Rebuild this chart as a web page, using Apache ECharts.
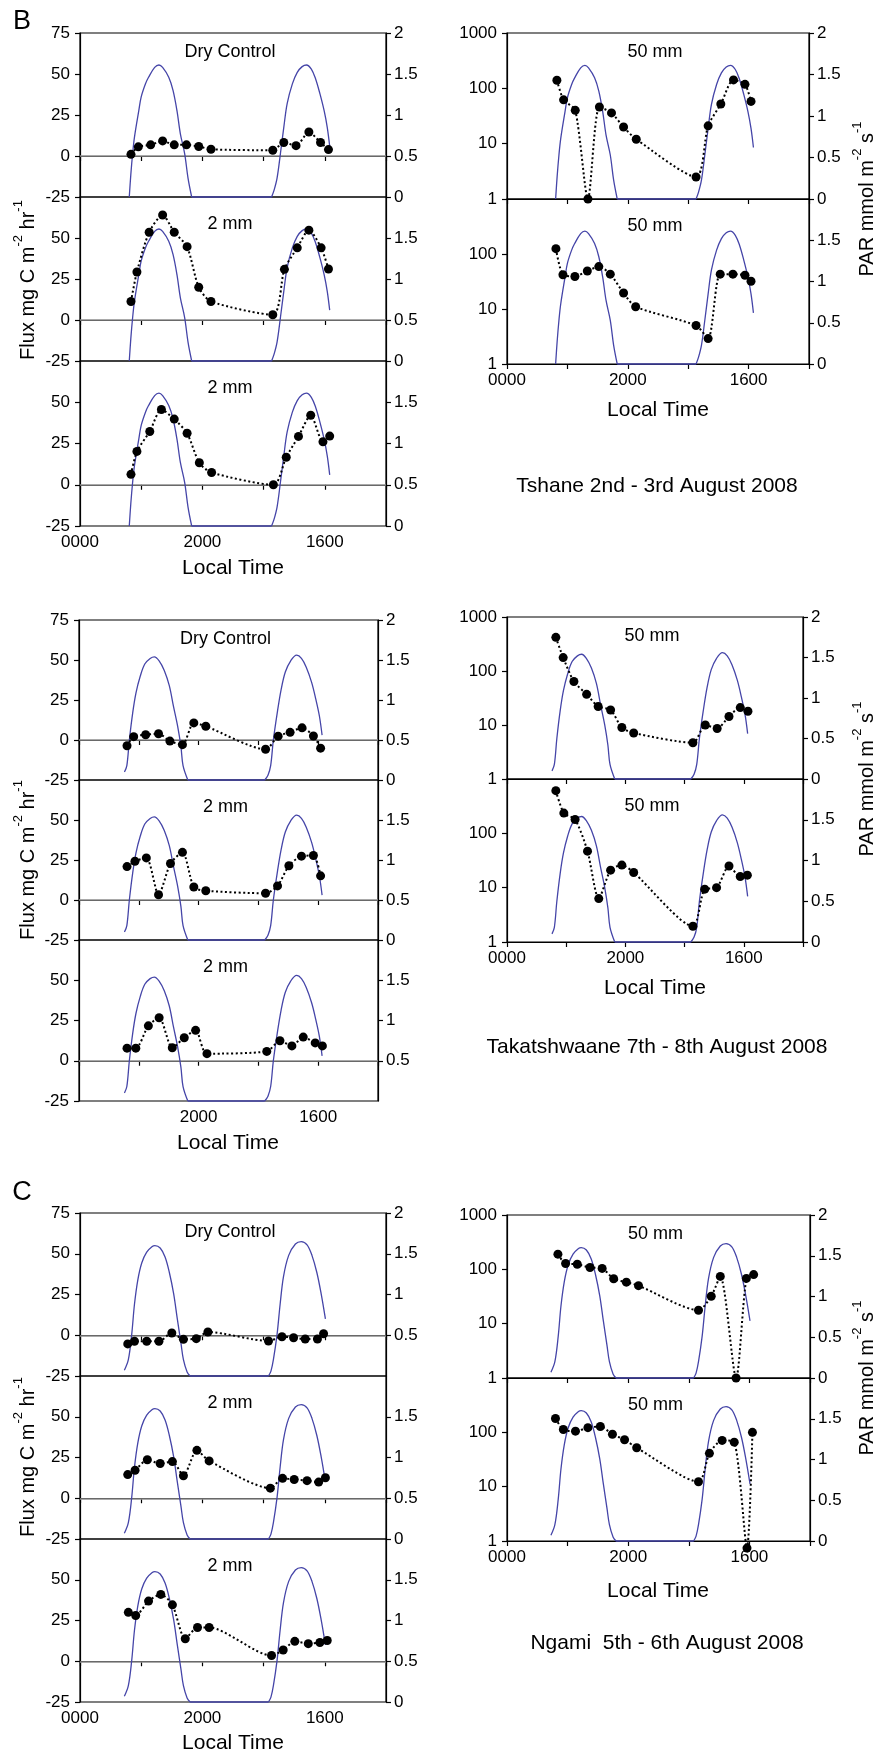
<!DOCTYPE html>
<html>
<head>
<meta charset="utf-8">
<title>Flux and PAR</title>
<script src="https://cdn.jsdelivr.net/npm/echarts@6/dist/echarts.min.js"></script>
<style>
  html, body { margin: 0; padding: 0; background: #fff; }
  #chart { width: 877px; height: 1754px; }
</style>
</head>
<body>
<div id="chart"></div>
<script>
/* ========== data ========== */

// x axis is hours from midnight of the first day
const timeTicks = { 0: '0000', 20: '2000', 40: '1600' }
const leftTitles = ['Dry Control', '2 mm', '2 mm']
const rightTitle = '50 mm'
const siteCaptions = ['Tshane 2nd - 3rd August 2008', 'Takatshwaane 7th - 8th August 2008', 'Ngami  5th - 6th August 2008']

// PAR, mmol m-2 s-1
const tsParT = [8.05, 8.3, 8.6, 8.9, 9.6, 10.0, 10.7, 11.2, 12.2, 12.9, 13.5, 14.5, 15.2, 15.85, 16.4, 17.1, 17.65, 18.25, 31.3, 31.7, 32.2, 32.75, 33.3, 33.85, 34.7, 35.5, 36.3, 37.0, 37.8, 38.5, 39.2, 39.9, 40.4, 40.8]
const tsParV = [0, 0.27, 0.53, 0.73, 1.05, 1.22, 1.38, 1.46, 1.58, 1.61, 1.58, 1.46, 1.30, 1.05, 0.77, 0.53, 0.23, 0, 0, 0.08, 0.23, 0.53, 0.85, 1.14, 1.38, 1.52, 1.59, 1.61, 1.56, 1.44, 1.26, 1.05, 0.85, 0.62]
const tkParT = [7.6, 8.0, 8.42, 8.98, 9.53, 10.25, 11.0, 11.9, 12.6, 13.4, 14.26, 15.1, 15.8, 16.5, 17.04, 17.4, 18.2, 31.05, 31.6, 32.05, 32.5, 33.15, 33.8, 34.5, 35.4, 36.4, 37.2, 38.0, 38.9, 39.6, 40.2, 40.65]
const tkParV = [0.1, 0.18, 0.5, 0.84, 1.09, 1.30, 1.45, 1.52, 1.54, 1.49, 1.37, 1.18, 0.92, 0.67, 0.42, 0.18, 0, 0, 0.06, 0.18, 0.5, 0.84, 1.13, 1.35, 1.49, 1.56, 1.52, 1.41, 1.22, 1.01, 0.8, 0.56]
const ngParT = [7.25, 7.9, 8.45, 8.9, 9.45, 10.1, 10.9, 11.8, 12.25, 13.1, 13.9, 14.6, 15.3, 15.9, 16.5, 16.9, 17.5, 18.0, 30.8, 31.2, 31.6, 32.2, 32.7, 33.25, 34.1, 35.2, 36.15, 37.1, 37.9, 38.7, 39.4, 40.1]
const ngParV = [0.07, 0.2, 0.51, 0.88, 1.18, 1.39, 1.52, 1.59, 1.60, 1.57, 1.46, 1.27, 1.01, 0.7, 0.4, 0.2, 0.05, 0, 0, 0.06, 0.2, 0.51, 0.88, 1.22, 1.48, 1.62, 1.65, 1.61, 1.48, 1.27, 1.01, 0.7]

// Flux, mg C m-2 hr-1 -- Tshane
const tsDryT = [8.33, 9.53, 11.55, 13.5, 15.4, 17.4, 19.4, 21.4, 31.5, 33.3, 35.3, 37.4, 39.3, 40.6]
const tsDryF = [1, 5.6, 6.8, 9.2, 6.8, 6.8, 5.8, 4.1, 3.5, 8.2, 6.3, 14.6, 8.2, 3.9]
const ts2aT = [8.33, 9.3, 11.3, 13.5, 15.4, 17.5, 19.4, 21.4, 31.5, 33.4, 35.5, 37.4, 39.4, 40.6]
const ts2aF = [11.3, 29.3, 53.5, 64, 53.5, 44.7, 20, 11.3, 3.2, 30.9, 44, 54.8, 44, 31.1]
const ts2bT = [8.33, 9.3, 11.4, 13.3, 15.4, 17.5, 19.5, 21.5, 31.6, 33.7, 35.7, 37.7, 39.7, 40.8]
const ts2bF = [6.3, 20.2, 32.3, 45.6, 39.8, 31.2, 13.3, 7.4, 0, 16.7, 29.3, 42.1, 26, 29.5]
const ts50aT = [8.26, 9.37, 11.3, 13.4, 15.3, 17.3, 19.3, 21.4, 31.3, 33.3, 35.4, 37.5, 39.4, 40.4]
const ts50aF = [140, 62, 40, 1, 46, 36, 20, 12, 2.5, 21, 52, 142, 118, 58]
const ts50bT = [8.1, 9.26, 11.24, 13.3, 15.2, 17.1, 19.3, 21.3, 31.3, 33.3, 35.3, 37.4, 39.4, 40.4]
const ts50bF = [125, 42, 39, 49, 59, 43, 19.5, 11, 5.0, 2.9, 43, 43, 41, 32]

// Takatshwaane
const tkDryT = [8.03, 9.14, 11.15, 13.3, 15.2, 17.3, 19.2, 21.2, 31.2, 33.3, 35.3, 37.3, 39.2, 40.4]
const tkDryF = [-3.6, 2.1, 3.3, 3.9, -0.7, -2.9, 10.7, 8.6, -5.8, 2.4, 4.8, 7.6, 2.5, -5.1]
const tk2aT = [8.03, 9.36, 11.26, 13.3, 15.3, 17.3, 19.2, 21.2, 31.2, 33.2, 35.1, 37.2, 39.2, 40.4]
const tk2aF = [20.9, 24.2, 26.3, 3.3, 22.8, 29.8, 8.1, 5.8, 4.2, 8.8, 21.4, 27.4, 27.8, 15.1]
const tk2bT = [8.03, 9.5, 11.6, 13.4, 15.6, 17.6, 19.5, 21.4, 31.4, 33.6, 35.6, 37.5, 39.5, 40.7]
const tk2bF = [7.8, 7.8, 21.7, 26.7, 8.1, 14.3, 18.9, 4.4, 5.8, 12.4, 9.2, 14.7, 11.1, 9.2]
const tk50aT = [8.25, 9.49, 11.3, 13.45, 15.4, 17.5, 19.4, 21.4, 31.4, 33.5, 35.5, 37.5, 39.4, 40.7]
const tk50aF = [420, 177, 64, 37, 22, 19, 9.0, 7.1, 4.7, 10, 8.6, 14.4, 21, 18]
const tk50bT = [8.25, 9.6, 11.5, 13.6, 15.5, 17.5, 19.4, 21.4, 31.4, 33.4, 35.4, 37.5, 39.4, 40.6]
const tk50bF = [610, 236, 180, 47, 6.3, 21, 26, 19, 1.95, 9.4, 10, 25, 16, 17]

// Ngami
const ngDryT = [7.8, 8.9, 10.9, 12.9, 15.0, 16.9, 19.0, 20.9, 30.8, 33.0, 34.9, 36.8, 38.8, 39.8]
const ngDryF = [-5.3, -3.7, -3.7, -3.7, 1.4, -2.5, -2.1, 2.0, -3.5, -0.9, -1.5, -2.3, -2.3, 0.9]
const ng2aT = [7.8, 9.0, 11.0, 13.1, 15.1, 16.9, 19.1, 21.1, 31.1, 33.1, 35.0, 37.1, 39.0, 40.1]
const ng2aF = [14.5, 17.2, 23.6, 21.3, 22.5, 13.8, 29.4, 22.9, 6.2, 12.2, 11.5, 10.8, 9.9, 12.6]
const ng2bT = [7.9, 9.1, 11.2, 13.2, 15.1, 17.2, 19.2, 21.1, 31.3, 33.2, 35.1, 37.3, 39.2, 40.4]
const ng2bF = [30.0, 28.1, 36.9, 41.0, 34.6, 13.8, 20.7, 20.7, 3.5, 6.9, 12.2, 10.8, 11.5, 12.7]
const ng50aT = [8.4, 9.67, 11.6, 13.7, 15.7, 17.6, 19.7, 21.7, 31.6, 33.7, 35.2, 37.8, 39.5, 40.7]
const ng50aF = [190, 128, 124, 108, 104, 67, 58, 50, 17.7, 32, 74, 1.0, 68, 80]
const ng50bT = [8.0, 9.3, 11.3, 13.35, 15.4, 17.4, 19.4, 21.4, 31.6, 33.4, 35.5, 37.5, 39.6, 40.5]
const ng50bF = [180, 113, 105, 122, 128, 92, 73, 52, 12.3, 41, 71, 66, 0.74, 100]

/* ========== layout ========== */

const FONT = '"Liberation Sans", Arial, Helvetica, sans-serif'

// rect = [left, top, width, height]
const panels = [
  { rect: [80, 33, 306, 164], title: leftTitles[0], t: tsDryT, f: tsDryF, pt: tsParT, pv: tsParV, first: true },
  { rect: [80, 197, 306, 164], title: leftTitles[1], t: ts2aT, f: ts2aF, pt: tsParT, pv: tsParV },
  { rect: [80, 361, 306, 165], title: leftTitles[2], t: ts2bT, f: ts2bF, pt: tsParT, pv: tsParV, bottom: true },
  { rect: [507, 33, 302, 166], title: rightTitle, t: ts50aT, f: ts50aF, pt: tsParT, pv: tsParV, log: true, first: true },
  { rect: [507, 199, 302, 165], title: rightTitle, t: ts50bT, f: ts50bF, pt: tsParT, pv: tsParV, log: true, bottom: true },

  { rect: [79, 620, 299, 160], title: leftTitles[0], t: tkDryT, f: tkDryF, pt: tkParT, pv: tkParV, first: true },
  { rect: [79, 780, 299, 160], title: leftTitles[1], t: tk2aT, f: tk2aF, pt: tkParT, pv: tkParV },
  { rect: [79, 940, 299, 161], title: leftTitles[2], t: tk2bT, f: tk2bF, pt: tkParT, pv: tkParV, bottom: true, noX0: true, noR0: true },
  { rect: [507, 617, 296, 162], title: rightTitle, t: tk50aT, f: tk50aF, pt: tkParT, pv: tkParV, log: true, first: true },
  { rect: [507, 779, 296, 163], title: rightTitle, t: tk50bT, f: tk50bF, pt: tkParT, pv: tkParV, log: true, bottom: true },

  { rect: [80, 1213, 306, 163], title: leftTitles[0], t: ngDryT, f: ngDryF, pt: ngParT, pv: ngParV, first: true, noR0: true },
  { rect: [80, 1376, 306, 163], title: leftTitles[1], t: ng2aT, f: ng2aF, pt: ngParT, pv: ngParV },
  { rect: [80, 1539, 306, 163], title: leftTitles[2], t: ng2bT, f: ng2bF, pt: ngParT, pv: ngParV, bottom: true },
  { rect: [507, 1215, 303, 163], title: rightTitle, t: ng50aT, f: ng50aF, pt: ngParT, pv: ngParV, log: true, first: true },
  { rect: [507, 1378, 303, 163], title: rightTitle, t: ng50bT, f: ng50bF, pt: ngParT, pv: ngParV, log: true, bottom: true }
]

const zip = (xs, ys) => xs.map((x, i) => [x, ys[i]])

// the flat night stretch is its own piece so the smoothed humps do not dip under zero
function parData(ts, vs) {
  const out = []
  for (let i = 0; i < ts.length; i++) {
    out.push([ts[i], vs[i]])
    if (i + 1 < ts.length && vs[i] === 0 && vs[i + 1] === 0) {
      out.push([ts[i], null], [ts[i], 0], [ts[i + 1], 0], [ts[i + 1], null])
    }
  }
  return out
}

const axisLine = { show: true, lineStyle: { color: '#000', width: 1.2 } }
const axisTick = { show: true, length: 5, lineStyle: { color: '#000', width: 1.2 } }
const labelStyle = { color: '#000', fontSize: 17, fontFamily: FONT }

const grids = []
const xAxes = []
const yAxes = []
const series = []
const graphics = []

panels.forEach((p, i) => {
  const [left, top, width, height] = p.rect
  grids.push({ left, top, width, height, show: true, borderColor: '#000', borderWidth: 1.2, backgroundColor: 'transparent' })

  xAxes.push({
    gridIndex: i, type: 'value', min: 0, max: 50, interval: 10,
    axisLine, axisTick, splitLine: { show: false },
    axisLabel: Object.assign({}, labelStyle, {
      show: !!p.bottom, margin: 8,
      formatter: v => (p.noX0 && v === 0) ? '' : (timeTicks[v] || '')
    })
  })

  if (p.log) {
    yAxes.push({
      gridIndex: i, type: 'log', logBase: 10, min: 1, max: 1000, position: 'left',
      axisLine, axisTick, splitLine: { show: false }, minorTick: { show: false },
      axisLabel: Object.assign({}, labelStyle, { margin: 10, showMaxLabel: !!p.first, formatter: v => String(Math.round(v)) })
    })
  } else {
    yAxes.push({
      gridIndex: i, type: 'value', min: -25, max: 75, interval: 25, position: 'left',
      axisLine, axisTick, splitLine: { show: false },
      axisLabel: Object.assign({}, labelStyle, { margin: 10, showMaxLabel: !!p.first })
    })
  }
  yAxes.push({
    gridIndex: i, type: 'value', min: 0, max: 2, interval: 0.5, position: 'right',
    axisLine, axisTick, splitLine: { show: false },
    axisLabel: Object.assign({}, labelStyle, { margin: 8, showMaxLabel: !!p.first, showMinLabel: !p.noR0 })
  })

  // PAR trace
  series.push({
    type: 'line', xAxisIndex: i, yAxisIndex: 2 * i + 1,
    data: parData(p.pt, p.pv),
    showSymbol: false, smooth: 0.35, clip: false, silent: true, z: 2,
    lineStyle: { color: '#4545a8', width: 1.3 }
  })

  // flux points joined by a dotted line
  series.push({
    type: 'line', xAxisIndex: i, yAxisIndex: 2 * i,
    data: zip(p.t, p.f),
    symbol: 'circle', symbolSize: 9, smooth: 0.25, clip: false, silent: true, z: 3,
    itemStyle: { color: '#000' },
    lineStyle: { color: '#000', width: 2, type: [2, 2.5] },
    markLine: p.log ? undefined : {
      silent: true, symbol: 'none', label: { show: false }, z: 1,
      lineStyle: { color: '#8c8c8c', width: 1.5, type: 'solid' },
      data: [{ yAxis: 0 }]
    }
  })

  graphics.push({
    type: 'text', x: left + width / 2 - 3, y: top + (p.first ? 19 : 27),
    style: { text: p.title, fontSize: 18, fontFamily: FONT, fill: '#000', align: 'center', verticalAlign: 'middle' }
  })
})

// free text: panel letters, axis names, captions
const plainText = (text, x, y, size) => ({
  type: 'text', x, y,
  style: { text, fontSize: size, fontFamily: FONT, fill: '#000', align: 'center', verticalAlign: 'middle' }
})
const supTitle = (main1, sup1, main2, sup2, x, y) => ({
  type: 'text', x, y, rotation: Math.PI / 2,
  style: {
    text: '{a|' + main1 + '}{s|' + sup1 + '}{a|' + main2 + '}{s|' + sup2 + '}',
    align: 'center', verticalAlign: 'middle', fill: '#000',
    rich: {
      a: { fontSize: 20, fontFamily: FONT, lineHeight: 26, verticalAlign: 'bottom' },
      s: { fontSize: 13, fontFamily: FONT, lineHeight: 26, verticalAlign: 'top' }
    }
  }
})

graphics.push(plainText('B', 22, 22, 27))
graphics.push(plainText('C', 22, 1193, 27))

;[280, 860, 1457].forEach(y => graphics.push(supTitle('Flux mg C m', '-2', ' hr', '-1', 25, y)))
;[199, 779, 1378].forEach(y => graphics.push(supTitle('PAR mmol m', '-2', ' s', '-1', 864, y)))

;[[233, 568], [228, 1143], [233, 1743], [658, 410], [655, 988], [658, 1591]].forEach(([x, y]) => {
  graphics.push(plainText('Local Time', x, y, 21))
})

graphics.push(plainText(siteCaptions[0], 657, 486, 21))
graphics.push(plainText(siteCaptions[1], 657, 1047, 21))
graphics.push(plainText(siteCaptions[2], 667, 1643, 21))

const chart = echarts.init(document.getElementById('chart'), null, { renderer: 'canvas' })
chart.setOption({
  backgroundColor: '#fff',
  animation: false,
  grid: grids,
  xAxis: xAxes,
  yAxis: yAxes,
  series,
  graphic: graphics
})
</script>
</body>
</html>
